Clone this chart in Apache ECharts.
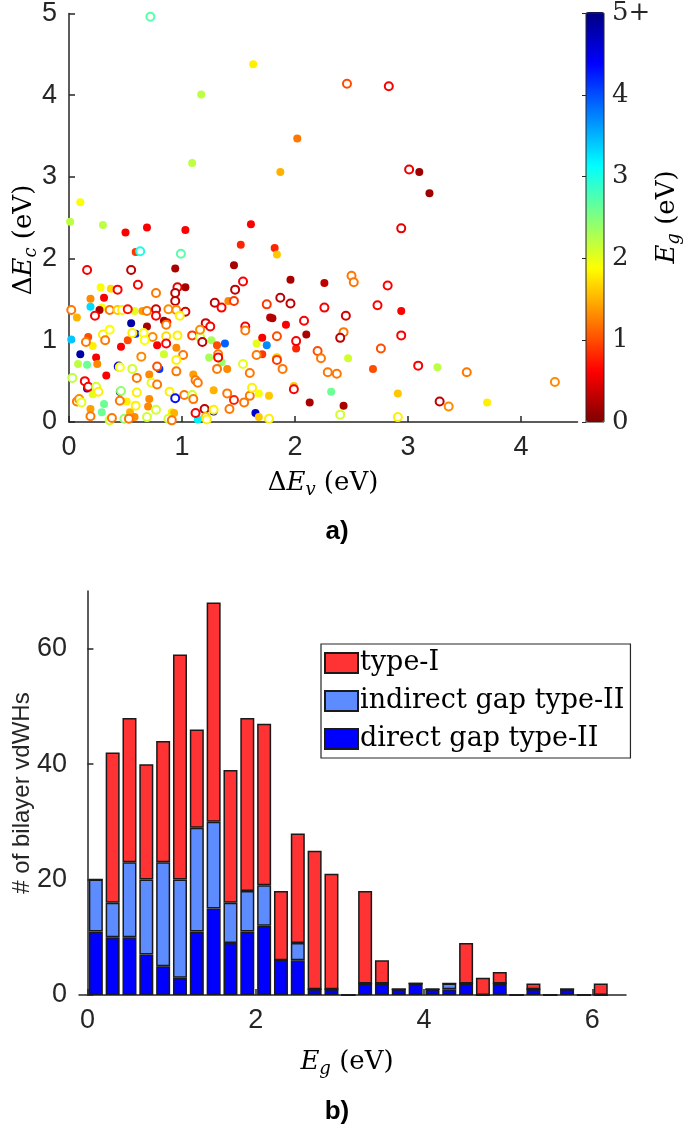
<!DOCTYPE html>
<html>
<head>
<meta charset="utf-8">
<script src="https://cdn.jsdelivr.net/npm/echarts@6/dist/echarts.min.js"></script>
<style>
html,body{margin:0;padding:0;background:#fff;}
#chart{width:685px;height:1124px;}
</style>
</head>
<body>
<div id="chart"></div>
<script>
// ---------- panel a) scatter: [dEv, dEc, Eg] ----------
const filledPts = [
[0.10,2.69,1.9],[0.01,2.45,2.2],[0.30,2.41,2.2],[1.63,4.38,1.8],[1.17,4.01,2.2],[2.02,3.47,1.2],
[1.09,3.17,2.2],[1.87,3.06,1.5],[3.10,3.06,0.15],[3.19,2.80,0.15],[0.50,2.32,0.6],[0.69,2.38,0.6],
[1.03,2.35,0.6],[1.61,2.42,0.6],[0.59,2.08,0.9],[1.52,2.17,0.8],[0.94,1.88,0.2],[1.46,1.92,0.2],
[0.28,1.65,1.9],[0.37,1.63,1.7],[1.03,1.65,0.2],[0.19,1.51,1.3],[0.31,1.52,0.6],[1.41,1.48,1.3],
[0.19,1.41,3.3],[0.29,1.40,1.9],[0.27,1.37,0.2],[0.07,1.28,1.5],[0.58,1.36,2.0],[0.65,1.36,1.4],
[0.87,1.22,0.6],[0.84,1.24,0.2],[0.55,1.21,4.8],[0.69,1.17,0.2],[0.59,1.08,4.2],[0.96,1.06,3.6],
[1.26,1.00,2.3],[1.38,0.96,3.9],[1.66,0.96,2.0],[0.02,1.01,3.4],[0.17,1.04,1.0],[0.21,0.93,1.8],
[0.46,0.92,0.6],[0.52,1.00,1.0],[0.78,0.94,0.6],[0.95,0.91,1.3],[0.84,0.83,2.1],[0.10,0.83,4.8],
[0.24,0.79,0.6],[0.08,0.71,2.2],[0.16,0.70,2.6],[0.25,0.71,1.3],[0.80,0.65,4.1],[1.24,0.79,2.3],
[1.31,0.94,1.0],[1.35,0.73,2.4],[0.33,0.57,0.6],[0.71,0.58,1.3],[1.10,0.58,1.4],[0.16,0.41,4.8],
[0.21,0.34,2.0],[0.45,0.37,4.8],[1.28,0.39,1.5],[1.68,0.35,1.9],[0.71,0.28,1.3],[0.51,0.25,1.8],
[0.31,0.22,2.6],[0.19,0.16,1.4],[0.54,0.12,1.5],[0.58,0.06,1.3],[0.70,0.19,1.3],[0.91,0.12,1.8],
[0.93,0.11,1.5],[1.28,0.13,4.7],[1.14,0.03,3.2],[1.65,0.11,4.6],[1.68,0.06,1.6],[0.29,0.12,2.6],
[1.82,2.13,0.8],[1.84,2.05,1.6],[1.96,1.74,0.2],[2.26,1.70,0.3],[2.94,1.36,0.6],[1.78,1.28,0.3],
[1.80,1.27,0.25],[1.92,1.19,0.6],[2.10,1.07,0.2],[1.71,1.03,0.6],[1.75,0.94,3.7],[2.01,0.90,0.8],
[1.71,0.83,0.9],[2.47,0.78,2.1],[2.69,0.65,1.0],[3.26,0.67,2.2],[1.99,0.44,1.6],[1.77,0.32,1.6],
[2.32,0.37,2.6],[2.91,0.35,1.6],[2.13,0.24,0.2],[2.43,0.20,0.2],[3.70,0.24,1.8],[1.40,0.65,1.3]
];
const openPts = [
[0.72,4.96,2.7],[2.46,4.14,1.0],[2.83,4.11,0.6],[3.01,3.09,0.5],[0.63,2.09,3.0],[0.99,2.06,2.7],
[0.16,1.86,0.6],[0.55,1.86,0.3],[1.54,1.72,0.6],[0.61,1.68,0.6],[0.43,1.62,0.6],[0.77,1.58,1.2],
[0.96,1.65,0.5],[0.94,1.58,0.3],[1.47,1.62,0.3],[0.94,1.48,0.3],[1.29,1.46,0.3],[1.35,1.40,0.6],
[1.46,1.48,0.9],[0.02,1.37,1.2],[0.23,1.30,0.6],[0.36,1.37,1.2],[0.43,1.37,1.6],[0.47,1.37,1.8],
[0.52,1.38,0.7],[0.69,1.36,1.2],[0.77,1.38,0.4],[0.77,1.30,0.6],[0.88,1.38,1.3],[0.95,1.37,1.3],
[1.03,1.35,0.4],[0.98,1.30,1.8],[1.21,1.21,0.4],[1.25,1.17,0.6],[1.56,1.17,0.6],[1.56,1.12,1.2],
[0.86,1.19,1.2],[0.56,1.09,1.8],[0.66,1.09,1.9],[0.74,1.04,1.3],[0.86,1.05,1.7],[0.96,1.06,1.8],
[1.09,1.06,0.9],[1.16,1.04,2.1],[1.16,1.13,1.3],[0.15,0.98,1.2],[0.30,1.07,1.8],[0.36,1.13,1.9],
[0.32,1.00,1.2],[0.67,1.00,1.9],[0.86,0.96,0.6],[1.01,0.82,1.2],[0.64,0.80,1.3],[0.44,0.68,4.6],
[0.45,0.67,1.9],[0.56,0.65,2.1],[0.78,0.68,1.0],[0.95,0.76,1.8],[0.95,0.62,1.2],[1.18,0.98,0.3],
[1.32,0.83,1.2],[1.32,0.79,0.6],[1.31,0.65,1.2],[1.54,0.71,2.0],[1.66,0.82,1.2],[1.60,0.60,1.2],
[0.03,0.54,2.2],[0.60,0.54,1.2],[0.73,0.48,2.0],[0.78,0.46,1.2],[1.12,0.51,1.2],[1.14,0.48,1.2],
[0.14,0.50,0.6],[0.17,0.43,0.6],[0.24,0.43,2.1],[0.26,0.37,1.8],[0.46,0.38,2.4],[0.60,0.36,1.8],
[0.89,0.37,1.8],[1.02,0.33,1.2],[1.09,0.33,2.1],[1.10,0.28,1.2],[1.40,0.35,1.2],[1.46,0.27,0.8],
[1.55,0.24,1.2],[1.60,0.32,1.2],[1.62,0.42,1.8],[0.94,0.29,4.3],[0.45,0.26,1.2],[0.07,0.25,1.2],
[0.09,0.28,1.3],[0.11,0.24,2.0],[0.77,0.15,2.1],[0.59,0.20,1.8],[0.88,0.04,2.1],[1.12,0.11,0.6],
[1.20,0.16,0.3],[1.21,0.06,1.6],[1.28,0.15,1.8],[0.19,0.07,1.2],[0.36,0.02,2.1],[0.38,0.05,1.2],
[0.49,0.04,2.4],[0.53,0.04,1.2],[0.91,0.02,1.2],[1.22,0.03,1.8],[2.94,2.37,0.5],[2.50,1.79,1.2],
[2.52,1.71,1.2],[2.82,1.67,0.6],[1.87,1.52,0.3],[1.96,1.45,0.3],[1.75,1.44,0.9],[2.26,1.40,0.6],
[2.73,1.43,0.6],[2.45,1.30,0.4],[2.08,1.24,0.6],[1.84,1.05,1.0],[2.43,1.10,1.2],[2.40,1.03,0.3],
[2.94,1.06,0.6],[2.01,0.99,0.6],[2.20,0.87,1.0],[2.23,0.78,1.2],[2.76,0.90,1.0],[1.84,0.78,1.6],
[1.84,0.76,0.9],[1.89,0.65,1.2],[2.29,0.61,1.2],[2.37,0.59,1.2],[3.09,0.69,0.6],[3.52,0.61,1.2],
[4.30,0.49,1.3],[1.99,0.40,0.6],[3.28,0.25,0.3],[3.36,0.19,1.3],[1.77,0.04,1.8],[2.40,0.09,2.1],
[2.91,0.06,1.8],[1.42,0.16,1.2],[0.69,0.06,2.1]
];
const scatterXTicks = [0,1,2,3,4];

// ---------- panel b) stacked histogram ----------
const binCenters = [0.1,0.3,0.5,0.7,0.9,1.1,1.3,1.5,1.7,1.9,2.1,2.3,2.5,2.7,2.9,3.1,3.3,3.5,3.7,3.9,4.1,4.3,4.5,4.7,4.9,5.1,5.3,5.5,5.7,5.9,6.1];
const directII   = [11,10,10,7,5,3,11,15,9,11,12,6,6,1,1,0,2,2,1,2,1,1,2,0,2,0,1,0,1,0,0];
const indirectII = [9,6,13,13,18,17,18,15,7,7,7,0,3,0,0,0,0,0,0,0,0,1,0,0,0,0,0,0,0,0,0];
const typeI      = [0,26,25,20,21,39,17,38,23,30,28,12,19,24,20,0,16,4,0,0,0,0,7,3,2,0,1,0,0,0,2];
const histXTicks = [0,2,4,6];
const histYTicks = [0,20,40,60];

const TXT = '#262626';
const SERIF = 'DejaVu Serif';
const SANS = 'Liberation Sans';
const jet = ['#800000','#ff0000','#ff8000','#ffff00','#80ff80','#00ffff','#0080ff','#0000ff','#000080'];

// rows [count, binCenter] so that the count is the stacked dimension
const rows = (counts) => counts.map((c, i) => [c, binCenters[i]]);

const latexRich = {
  n: {fontFamily: SERIF, fontSize: 26, color: TXT},
  i: {fontFamily: SERIF, fontSize: 26, fontStyle: 'italic', color: TXT},
  s: {fontFamily: SERIF, fontSize: 18, fontStyle: 'italic', color: TXT, padding: [14, 0, 0, 0]}
};

const axisCommon = {
  axisLine: {show: true, lineStyle: {color: TXT, width: 1.5}},
  axisTick: {show: true, inside: true, length: 6, lineStyle: {color: TXT, width: 1.5}},
  splitLine: {show: false}
};

const barBase = {type: 'bar', xAxisIndex: 1, yAxisIndex: 1, stack: 'eg', barWidth: 14,
  encode: {x: 1, y: 0}, dimensions: ['count', 'eg']};

const chart = echarts.init(document.getElementById('chart'), null, {renderer: 'canvas'});
chart.setOption({
  backgroundColor: '#fff',
  animation: false,
  grid: [
    {left: 69, top: 12, width: 508.5, height: 410},
    {left: 79, top: 591, width: 547, height: 404},
    {left: 586, top: 12, width: 18, height: 410, show: true, borderColor: TXT, borderWidth: 1, backgroundColor: 'transparent', z: 10}
  ],
  xAxis: [
    Object.assign({}, axisCommon, {gridIndex: 0, type: 'value', min: 0, max: 4.5,
      axisTick: Object.assign({}, axisCommon.axisTick, {customValues: scatterXTicks}),
      axisLabel: {customValues: scatterXTicks, fontFamily: SANS, fontSize: 27, color: TXT, margin: 12}}),
    Object.assign({}, axisCommon, {gridIndex: 1, type: 'value', min: -0.1, max: 6.4,
      axisTick: Object.assign({}, axisCommon.axisTick, {customValues: histXTicks}),
      axisLabel: {customValues: histXTicks, fontFamily: SANS, fontSize: 27, color: TXT, margin: 12}}),
    {gridIndex: 2, type: 'value', min: 0, max: 1, show: false}
  ],
  yAxis: [
    Object.assign({}, axisCommon, {gridIndex: 0, type: 'value', min: 0, max: 5, interval: 1,
      axisLabel: {fontFamily: SANS, fontSize: 27, color: TXT, margin: 12}}),
    Object.assign({}, axisCommon, {gridIndex: 1, type: 'value', min: 0, max: 70,
      axisTick: Object.assign({}, axisCommon.axisTick, {customValues: histYTicks}),
      axisLabel: {customValues: histYTicks, fontFamily: SANS, fontSize: 27, color: TXT, margin: 12}}),
    {gridIndex: 2, type: 'value', position: 'right', min: 0, max: 5, interval: 1,
      axisLine: {show: false}, splitLine: {show: false},
      axisTick: {show: true, inside: true, length: 4, lineStyle: {color: TXT, width: 1}},
      axisLabel: {fontFamily: SERIF, fontSize: 26, color: TXT, margin: 8,
        formatter: v => (v === 5 ? '5+' : String(v))}}
  ],
  visualMap: {
    type: 'continuous', min: 0, max: 5, dimension: 2, seriesIndex: [0, 1],
    inRange: {color: jet}, calculable: false, left: 586, top: 12, padding: 0,
    itemWidth: 18, itemHeight: 410, orient: 'vertical', text: null, hoverLink: false
  },
  legend: {
    data: ['type-I', 'indirect gap type-II', 'direct gap type-II'],
    orient: 'vertical', left: 321, top: 644, icon: 'rect', itemWidth: 33, itemHeight: 20,
    itemGap: 8, padding: [4, 6, 4, 3], borderColor: TXT, borderWidth: 1.2, backgroundColor: '#fff',
    selectedMode: false,
    textStyle: {fontFamily: SERIF, fontSize: 27, color: '#000', lineHeight: 30, padding: [0, 0, 0, -3]}
  },
  series: [
    {type: 'scatter', name: 'filled', xAxisIndex: 0, yAxisIndex: 0, data: filledPts,
      symbol: 'circle', symbolSize: 8, itemStyle: {opacity: 1}},
    {type: 'scatter', name: 'open', xAxisIndex: 0, yAxisIndex: 0, data: openPts,
      symbol: 'emptyCircle', symbolSize: 8, itemStyle: {borderWidth: 1.6, opacity: 1}},
    Object.assign({}, barBase, {name: 'direct gap type-II', data: rows(directII),
      itemStyle: {color: '#0000ff', borderColor: '#1a1a1a', borderWidth: 1.5}}),
    Object.assign({}, barBase, {name: 'indirect gap type-II', data: rows(indirectII),
      itemStyle: {color: '#5c8cff', borderColor: '#1a1a1a', borderWidth: 1.5}}),
    Object.assign({}, barBase, {name: 'type-I', data: rows(typeI),
      itemStyle: {color: '#ff3333', borderColor: '#1a1a1a', borderWidth: 1.5}})
  ],
  graphic: [
    {type: 'text', x: 323, y: 483, style: {text: '{n|Δ}{i|E}{s|v}{n| (eV)}', rich: latexRich, align: 'center', verticalAlign: 'middle'}},
    {type: 'text', x: 24, y: 240, rotation: Math.PI / 2, style: {text: '{n|Δ}{i|E}{s|c}{n| (eV)}', rich: latexRich, align: 'center', verticalAlign: 'middle'}},
    {type: 'text', x: 667, y: 217, rotation: Math.PI / 2, style: {text: '{i|E}{s|g}{n| (eV)}', rich: latexRich, align: 'center', verticalAlign: 'middle'}},
    {type: 'text', x: 337, y: 532, style: {text: 'a)', fontFamily: SANS, fontWeight: 'bold', fontSize: 26, fill: '#000', align: 'center', verticalAlign: 'middle'}},
    {type: 'text', x: 22, y: 793, rotation: Math.PI / 2, style: {text: '# of bilayer vdWHs', fontFamily: SANS, fontSize: 24, fill: TXT, align: 'center', verticalAlign: 'middle'}},
    {type: 'text', x: 347, y: 1062, style: {text: '{i|E}{s|g}{n| (eV)}', rich: latexRich, align: 'center', verticalAlign: 'middle'}},
    {type: 'text', x: 337, y: 1112, style: {text: 'b)', fontFamily: SANS, fontWeight: 'bold', fontSize: 26, fill: '#000', align: 'center', verticalAlign: 'middle'}}
  ]
});
</script>
</body>
</html>
